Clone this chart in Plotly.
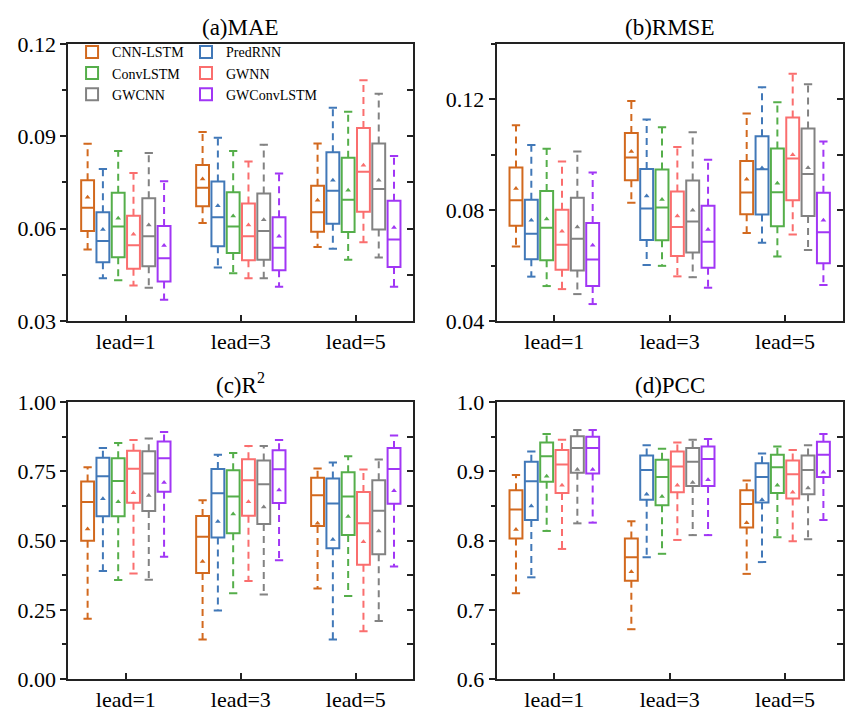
import plotly.graph_objects as go

models = ["CNN-LSTM", "PredRNN", "ConvLSTM", "GWNN", "GWCNN", "GWConvLSTM"]
colors = ["#D2691E", "#4178B8", "#55AE4A", "#FA6E6E", "#828282", "#A136F5"]
leads = ["lead=1", "lead=3", "lead=5"]
titles = ["(a)MAE", "(b)RMSE", "(c)R<sup>2</sup>", "(d)PCC"]

# rows = lead (1, 3, 5); columns = models in the order above
mae_low = [[0.0532, 0.0439, 0.0432, 0.0415, 0.0408, 0.0369],
           [0.0618, 0.0474, 0.0455, 0.0439, 0.0439, 0.0411],
           [0.0540, 0.0535, 0.0499, 0.0556, 0.0506, 0.0411]]
mae_q1 = [[0.0592, 0.0491, 0.0507, 0.0470, 0.0478, 0.0428],
          [0.0673, 0.0543, 0.0521, 0.0497, 0.0499, 0.0465],
          [0.0590, 0.0616, 0.0589, 0.0655, 0.0597, 0.0475]]
mae_med = [[0.0668, 0.0560, 0.0607, 0.0546, 0.0575, 0.0504],
           [0.0733, 0.0637, 0.0607, 0.0575, 0.0592, 0.0538],
           [0.0653, 0.0723, 0.0694, 0.0785, 0.0729, 0.0565]]
mae_q3 = [[0.0757, 0.0653, 0.0717, 0.0642, 0.0699, 0.0609],
          [0.0807, 0.0753, 0.0718, 0.0682, 0.0714, 0.0637],
          [0.0739, 0.0848, 0.0830, 0.0927, 0.0877, 0.0691]]
mae_high = [[0.0876, 0.0794, 0.0852, 0.0781, 0.0846, 0.0754],
            [0.0914, 0.0895, 0.0852, 0.0818, 0.0873, 0.0779],
            [0.0877, 0.0993, 0.0980, 0.1082, 0.1038, 0.0836]]
mae_mean = [[0.0702, 0.0597, 0.0634, 0.0582, 0.0612, 0.0545],
            [0.0761, 0.0674, 0.0641, 0.0612, 0.0629, 0.0575],
            [0.0692, 0.0757, 0.0725, 0.0806, 0.0757, 0.0604]]

rmse_low = [[0.0669, 0.0560, 0.0526, 0.0515, 0.0497, 0.0461],
            [0.0827, 0.0602, 0.0599, 0.0561, 0.0558, 0.0520],
            [0.0718, 0.0682, 0.0633, 0.0712, 0.0656, 0.0530]]
rmse_q1 = [[0.0744, 0.0623, 0.0619, 0.0585, 0.0582, 0.0526],
           [0.0908, 0.0692, 0.0691, 0.0635, 0.0647, 0.0592],
           [0.0785, 0.0784, 0.0742, 0.0836, 0.0779, 0.0608]]
rmse_med = [[0.0836, 0.0715, 0.0737, 0.0675, 0.0697, 0.0622],
            [0.0990, 0.0806, 0.0810, 0.0739, 0.0759, 0.0686],
            [0.0864, 0.0948, 0.0865, 0.0987, 0.0931, 0.0720]]
rmse_q3 = [[0.0954, 0.0838, 0.0869, 0.0802, 0.0845, 0.0754],
           [0.1079, 0.0949, 0.0947, 0.0867, 0.0907, 0.0816],
           [0.0978, 0.1067, 0.1023, 0.1135, 0.1095, 0.0863]]
rmse_high = [[0.1107, 0.1035, 0.1022, 0.0976, 0.1012, 0.0936],
             [0.1194, 0.1127, 0.1099, 0.1028, 0.1081, 0.0982],
             [0.1149, 0.1244, 0.1190, 0.1293, 0.1255, 0.1048]]
rmse_mean = [[0.0878, 0.0764, 0.0768, 0.0724, 0.0739, 0.0673],
             [0.1012, 0.0851, 0.0839, 0.0779, 0.0800, 0.0730],
             [0.0912, 0.0952, 0.0897, 0.1000, 0.0953, 0.0764]]

r2_low = [[0.218, 0.390, 0.358, 0.381, 0.359, 0.442],
          [0.143, 0.248, 0.310, 0.354, 0.305, 0.429],
          [0.327, 0.143, 0.300, 0.173, 0.210, 0.407]]
r2_q1 = [[0.500, 0.588, 0.588, 0.637, 0.607, 0.677],
         [0.383, 0.511, 0.527, 0.590, 0.560, 0.636],
         [0.553, 0.473, 0.520, 0.413, 0.451, 0.633]]
r2_med = [[0.640, 0.733, 0.716, 0.760, 0.743, 0.798],
          [0.514, 0.671, 0.660, 0.718, 0.704, 0.758],
          [0.664, 0.634, 0.660, 0.563, 0.608, 0.759]]
r2_q3 = [[0.714, 0.800, 0.798, 0.825, 0.823, 0.858],
         [0.589, 0.759, 0.754, 0.794, 0.790, 0.827],
         [0.727, 0.725, 0.747, 0.676, 0.718, 0.835]]
r2_high = [[0.765, 0.835, 0.853, 0.864, 0.869, 0.893],
           [0.646, 0.810, 0.817, 0.842, 0.842, 0.864],
           [0.761, 0.782, 0.805, 0.757, 0.793, 0.880]]
r2_mean = [[0.542, 0.651, 0.641, 0.673, 0.663, 0.710],
           [0.425, 0.569, 0.596, 0.641, 0.622, 0.683],
           [0.563, 0.504, 0.587, 0.496, 0.535, 0.680]]

pcc_low = [[0.724, 0.747, 0.814, 0.788, 0.825, 0.826],
           [0.672, 0.776, 0.781, 0.801, 0.808, 0.808],
           [0.752, 0.769, 0.805, 0.799, 0.802, 0.830]]
pcc_q1 = [[0.803, 0.830, 0.885, 0.869, 0.898, 0.897],
          [0.742, 0.859, 0.851, 0.870, 0.879, 0.879],
          [0.819, 0.855, 0.869, 0.861, 0.867, 0.892]]
pcc_med = [[0.845, 0.886, 0.922, 0.910, 0.934, 0.934],
           [0.776, 0.902, 0.892, 0.907, 0.914, 0.918],
           [0.853, 0.892, 0.906, 0.896, 0.902, 0.924]]
pcc_q3 = [[0.873, 0.914, 0.942, 0.931, 0.951, 0.950],
          [0.803, 0.923, 0.917, 0.929, 0.934, 0.936],
          [0.873, 0.912, 0.924, 0.916, 0.923, 0.943]]
pcc_high = [[0.895, 0.929, 0.954, 0.946, 0.960, 0.960],
            [0.828, 0.938, 0.933, 0.942, 0.946, 0.947],
            [0.887, 0.926, 0.936, 0.931, 0.938, 0.954]]
pcc_mean = [[0.816, 0.850, 0.893, 0.880, 0.903, 0.903],
            [0.755, 0.867, 0.864, 0.880, 0.884, 0.888],
            [0.826, 0.859, 0.880, 0.870, 0.876, 0.899]]

panels = [
    (mae_low, mae_q1, mae_med, mae_q3, mae_high, mae_mean),
    (rmse_low, rmse_q1, rmse_med, rmse_q3, rmse_high, rmse_mean),
    (r2_low, r2_q1, r2_med, r2_q3, r2_high, r2_mean),
    (pcc_low, pcc_q1, pcc_med, pcc_q3, pcc_high, pcc_mean),
]

SERIF = "Liberation Serif, Times New Roman, serif"
STEP = 0.133
BOXW = 0.112
CAP = 0.036

fig = go.Figure()

for k, (lo, q1, md, q3, hi, mn) in enumerate(panels):
    xa = "x" if k == 0 else f"x{k+1}"
    ya = "y" if k == 0 else f"y{k+1}"
    for j, (m, c) in enumerate(zip(models, colors)):
        pos = [i + (j - 2.5) * STEP for i in range(len(leads))]
        q1v = [q1[i][j] for i in range(3)]
        q3v = [q3[i][j] for i in range(3)]
        fig.add_trace(go.Box(
            x=pos, q1=q1v, median=[md[i][j] for i in range(3)], q3=q3v,
            lowerfence=q1v, upperfence=q3v, width=BOXW, whiskerwidth=0,
            boxpoints=False, line=dict(color=c, width=2),
            fillcolor="rgba(255,255,255,0)", name=m,
            showlegend=(k == 0), legend=("legend" if j % 2 == 0 else "legend2"),
            xaxis=xa, yaxis=ya, hoverinfo="skip"))
        wx, wy, cx, cy = [], [], [], []
        for i in range(3):
            p = pos[i]
            wx += [p, p, None, p, p, None]
            wy += [q3[i][j], hi[i][j], None, q1[i][j], lo[i][j], None]
            cx += [p - CAP, p + CAP, None, p - CAP, p + CAP, None]
            cy += [hi[i][j], hi[i][j], None, lo[i][j], lo[i][j], None]
        fig.add_trace(go.Scatter(x=wx, y=wy, mode="lines",
                                 line=dict(color=c, width=2, dash="7px,5px"),
                                 showlegend=False, hoverinfo="skip", xaxis=xa, yaxis=ya))
        fig.add_trace(go.Scatter(x=cx, y=cy, mode="lines",
                                 line=dict(color=c, width=2),
                                 showlegend=False, hoverinfo="skip", xaxis=xa, yaxis=ya))
        fig.add_trace(go.Scatter(x=pos, y=[mn[i][j] for i in range(3)], mode="markers",
                                 marker=dict(symbol="triangle-up", size=5, color=c),
                                 showlegend=False, hoverinfo="skip", xaxis=xa, yaxis=ya))

xdom = [[0.0792, 0.4789], [0.5755, 0.9765], [0.0792, 0.4789], [0.5755, 0.9765]]
ydom = [[0.5579, 0.9394], [0.5579, 0.9394], [0.0647, 0.4459], [0.0647, 0.4459]]
yranges = [[0.03, 0.12], [0.04, 0.14], [0.0, 1.0], [0.6, 1.0]]
ymajor = [(0.03, 0.03, ".2f"), (0.04, 0.04, ".2f"), (0.0, 0.25, ".2f"), (0.6, 0.1, ".1f")]

AX = "#222222"
legfont = dict(family=SERIF, size=14, color="black")
layout = dict(
    width=863, height=726,
    margin=dict(l=0, r=0, t=0, b=0, pad=0, autoexpand=False),
    paper_bgcolor="white", plot_bgcolor="white", boxmode="overlay",
    font=dict(family=SERIF, size=21, color="black"),
    showlegend=True,
    legend=dict(x=0.0835, y=0.950, xanchor="left", yanchor="top",
                bgcolor="rgba(0,0,0,0)", font=legfont,
                tracegroupgap=0, itemwidth=30),
    legend2=dict(x=0.2155, y=0.950, xanchor="left", yanchor="top",
                 bgcolor="rgba(0,0,0,0)", font=legfont,
                 tracegroupgap=0, itemwidth=30),
)
annotations = []
for k in range(4):
    xs = "" if k == 0 else str(k + 1)
    t0, dt, fmt = ymajor[k]
    layout[f"xaxis{xs}"] = dict(
        domain=xdom[k], range=[-0.5, 2.5], anchor=f"y{xs}",
        tickmode="array", tickvals=[0, 1, 2], ticktext=leads,
        ticks="inside", ticklen=6, tickwidth=1.5, tickcolor=AX,
        showline=True, linewidth=2, linecolor=AX, mirror=True,
        showgrid=False, zeroline=False, fixedrange=True, automargin=False,
        tickfont=dict(family=SERIF, size=22, color="black"))
    layout[f"yaxis{xs}"] = dict(
        domain=ydom[k], range=yranges[k], anchor=f"x{xs}",
        tick0=t0, dtick=dt, tickformat=fmt,
        ticks="outside", ticklen=6, tickwidth=1.5, tickcolor=AX,
        minor=dict(tick0=t0, dtick=dt / 2, ticks="outside", ticklen=4,
                   tickwidth=1.5, tickcolor=AX, showgrid=False),
        showline=True, linewidth=2, linecolor=AX, mirror=True,
        showgrid=False, zeroline=False, fixedrange=True, automargin=False,
        tickfont=dict(family=SERIF, size=22, color="black"))
    # right-hand axis carrying inward ticks
    layout[f"yaxis{k+5}"] = dict(
        overlaying=f"y{xs}", anchor=f"x{xs}", side="right", range=yranges[k],
        tick0=t0, dtick=dt / 2, ticks="inside", ticklen=6, tickwidth=1.5,
        tickcolor=AX, showticklabels=False, showline=False, automargin=False,
        showgrid=False, zeroline=False, fixedrange=True)
    fig.add_trace(go.Scatter(x=[None], y=[None], xaxis=f"x{xs}", yaxis=f"y{k+5}",
                             showlegend=False, hoverinfo="skip"))
    annotations.append(dict(
        text=titles[k], x=sum(xdom[k]) / 2, y=ydom[k][1], xref="paper", yref="paper",
        xanchor="center", yanchor="bottom", yshift=2, showarrow=False,
        font=dict(family=SERIF, size=23, color="black")))
layout["annotations"] = annotations
fig.update_layout(**layout)

fig.write_html("out.html", config={"displayModeBar": False},
               post_script="document.body.style.margin='0px';")
